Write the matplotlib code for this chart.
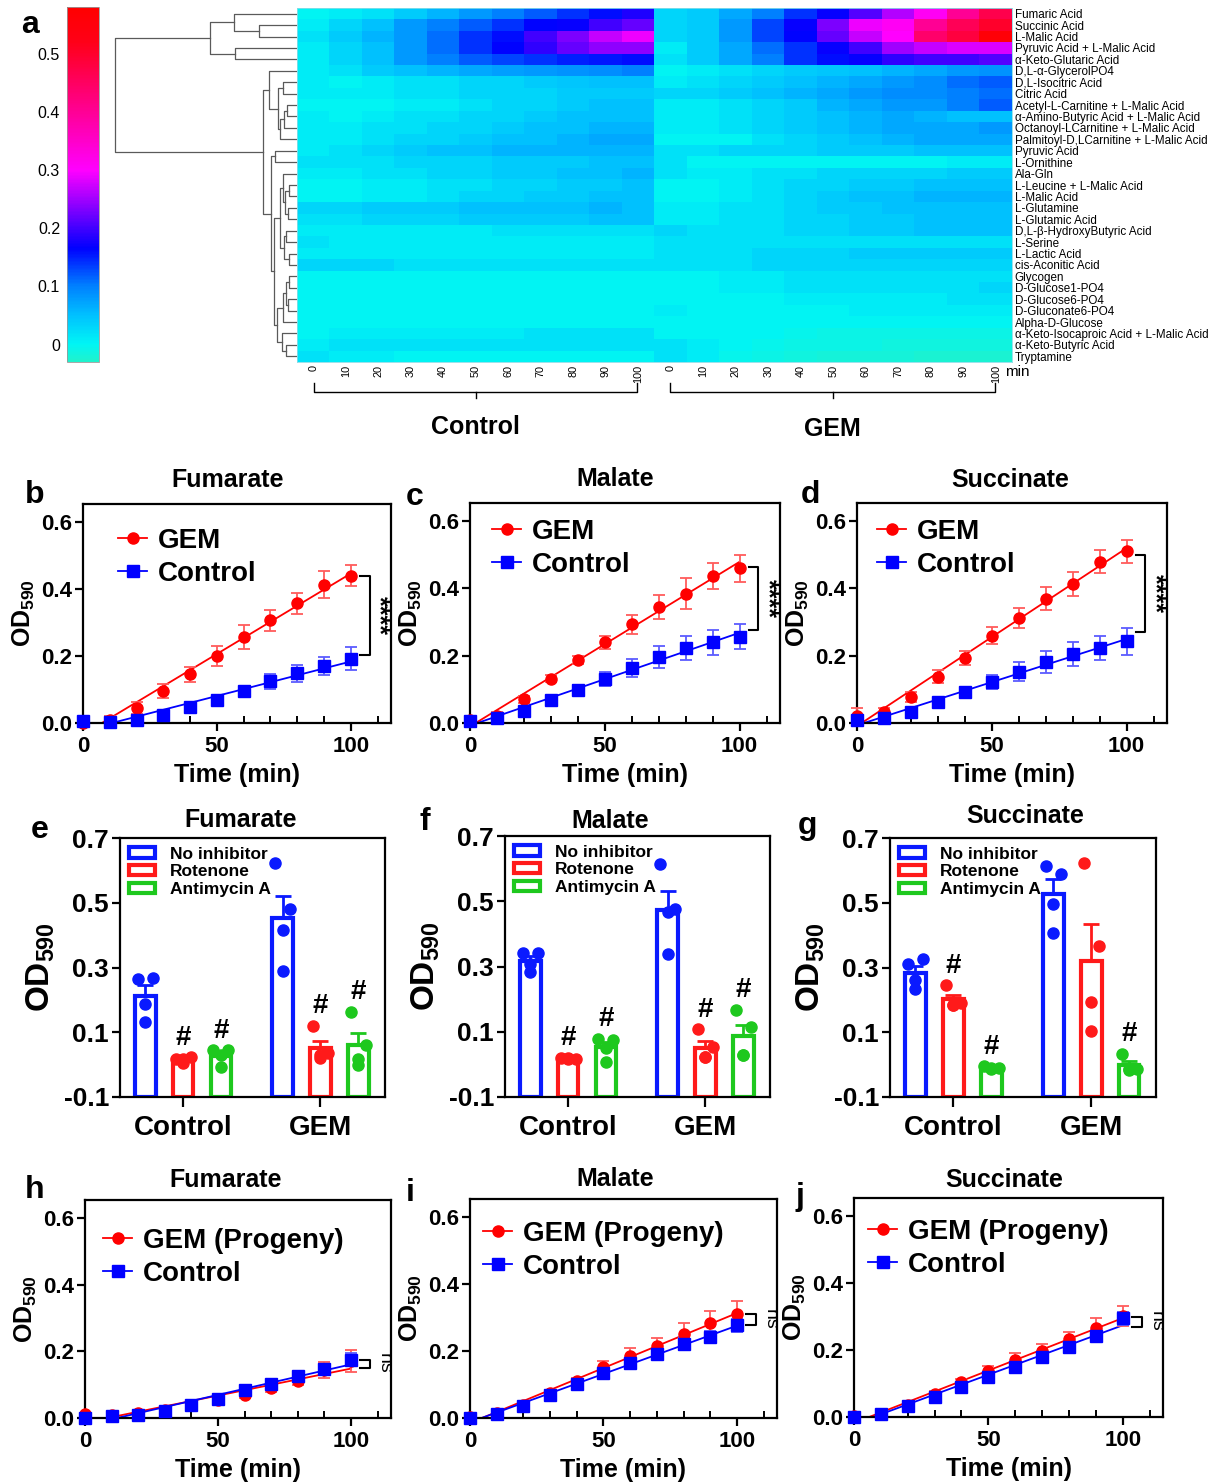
import numpy as np
import matplotlib
matplotlib.use("Agg")
import matplotlib.pyplot as plt
from matplotlib.colors import LinearSegmentedColormap
from matplotlib.lines import Line2D
from matplotlib.patches import Patch

plt.rcParams['font.family'] = ['Liberation Sans', 'DejaVu Sans']
plt.rcParams['mathtext.fontset'] = 'custom'
plt.rcParams['mathtext.rm'] = 'Liberation Sans'
plt.rcParams['mathtext.bf'] = 'Liberation Sans:bold'
plt.rcParams['axes.unicode_minus'] = False

# ---------------- data: heatmap (panel a) ----------------
substrates = ["Fumaric Acid", "Succinic Acid", "L-Malic Acid", "Pyruvic Acid + L-Malic Acid",
              "α-Keto-Glutaric Acid", "D,L-α-GlycerolPO4", "D,L-Isocitric Acid", "Citric Acid",
              "Acetyl-L-Carnitine + L-Malic Acid", "α-Amino-Butyric Acid + L-Malic Acid",
              "Octanoyl-LCarnitine + L-Malic Acid", "Palmitoyl-D,LCarnitine + L-Malic Acid",
              "Pyruvic Acid", "L-Ornithine", "Ala-Gln", "L-Leucine + L-Malic Acid", "L-Malic Acid",
              "L-Glutamine", "L-Glutamic Acid", "D,L-β-HydroxyButyric Acid", "L-Serine",
              "L-Lactic Acid", "cis-Aconitic Acid", "Glycogen", "D-Glucose1-PO4", "D-Glucose6-PO4",
              "D-Gluconate6-PO4", "Alpha-D-Glucose", "α-Keto-Isocaproic Acid + L-Malic Acid",
              "α-Keto-Butyric Acid", "Tryptamine"]
hm_minutes = ["0", "10", "20", "30", "40", "50", "60", "70", "80", "90", "100"]

hm_control = [
    [0.00, 0.01, 0.02, 0.04, 0.06, 0.08, 0.10, 0.12, 0.14, 0.16, 0.18],
    [0.01, 0.03, 0.05, 0.08, 0.10, 0.12, 0.14, 0.165, 0.17, 0.20, 0.22],
    [0.02, 0.04, 0.06, 0.08, 0.11, 0.14, 0.16, 0.20, 0.23, 0.27, 0.29],
    [0.01, 0.03, 0.05, 0.08, 0.11, 0.14, 0.165, 0.19, 0.22, 0.24, 0.24],
    [0.01, 0.03, 0.05, 0.08, 0.10, 0.12, 0.13, 0.14, 0.15, 0.155, 0.16],
    [0.01, 0.02, 0.04, 0.05, 0.06, 0.07, 0.075, 0.08, 0.085, 0.09, 0.10],
    [0.01, 0.00, 0.01, 0.02, 0.02, 0.03, 0.03, 0.04, 0.045, 0.05, 0.05],
    [0.01, 0.01, 0.01, 0.02, 0.02, 0.03, 0.03, 0.03, 0.04, 0.04, 0.04],
    [0.00, 0.00, 0.00, 0.01, 0.01, 0.02, 0.03, 0.03, 0.04, 0.05, 0.05],
    [0.01, 0.00, 0.01, 0.02, 0.02, 0.03, 0.03, 0.04, 0.05, 0.05, 0.05],
    [0.01, 0.01, 0.02, 0.02, 0.03, 0.03, 0.04, 0.05, 0.05, 0.06, 0.06],
    [0.01, 0.01, 0.02, 0.03, 0.03, 0.04, 0.05, 0.05, 0.06, 0.07, 0.07],
    [0.01, 0.02, 0.03, 0.04, 0.05, 0.05, 0.06, 0.06, 0.06, 0.06, 0.06],
    [0.02, 0.02, 0.02, 0.03, 0.03, 0.03, 0.04, 0.04, 0.04, 0.05, 0.05],
    [0.01, 0.01, 0.02, 0.02, 0.03, 0.03, 0.04, 0.04, 0.05, 0.05, 0.06],
    [0.00, 0.00, 0.01, 0.01, 0.02, 0.02, 0.03, 0.03, 0.04, 0.04, 0.05],
    [0.00, 0.00, 0.01, 0.01, 0.02, 0.03, 0.03, 0.04, 0.04, 0.05, 0.05],
    [0.03, 0.03, 0.04, 0.04, 0.04, 0.05, 0.05, 0.05, 0.05, 0.06, 0.05],
    [0.02, 0.02, 0.03, 0.03, 0.03, 0.04, 0.04, 0.04, 0.04, 0.05, 0.05],
    [0.01, 0.01, 0.01, 0.01, 0.01, 0.01, 0.02, 0.02, 0.02, 0.02, 0.02],
    [0.02, 0.01, 0.01, 0.01, 0.01, 0.01, 0.01, 0.01, 0.01, 0.01, 0.01],
    [0.01, 0.01, 0.01, 0.01, 0.01, 0.01, 0.01, 0.01, 0.01, 0.01, 0.01],
    [0.03, 0.03, 0.03, 0.02, 0.02, 0.02, 0.02, 0.02, 0.02, 0.02, 0.02],
    [0.00, 0.00, 0.00, 0.00, 0.00, 0.00, 0.00, 0.00, 0.00, 0.00, 0.00],
    [0.00, 0.00, 0.00, 0.00, 0.00, 0.00, 0.00, 0.00, 0.00, 0.00, 0.00],
    [0.00, 0.00, 0.00, 0.00, 0.00, 0.00, 0.00, 0.00, 0.00, 0.00, 0.00],
    [0.00, 0.00, 0.00, 0.00, 0.00, 0.00, 0.00, 0.00, 0.00, 0.00, 0.00],
    [0.00, 0.00, 0.00, 0.00, 0.00, 0.00, 0.00, 0.00, 0.00, 0.00, 0.00],
    [0.00, 0.01, 0.01, 0.01, 0.01, 0.01, 0.01, 0.02, 0.02, 0.02, 0.02],
    [0.01, 0.02, 0.02, 0.02, 0.02, 0.02, 0.02, 0.02, 0.02, 0.02, 0.02],
    [0.02, 0.01, 0.01, 0.00, 0.00, 0.00, 0.00, 0.00, 0.00, 0.00, 0.00],
]
hm_gem = [
    [0.03, 0.04, 0.07, 0.10, 0.14, 0.17, 0.21, 0.26, 0.31, 0.40, 0.47],
    [0.03, 0.04, 0.08, 0.13, 0.17, 0.23, 0.29, 0.31, 0.40, 0.46, 0.50],
    [0.03, 0.04, 0.08, 0.13, 0.165, 0.22, 0.27, 0.30, 0.44, 0.48, 0.56],
    [0.01, 0.04, 0.07, 0.11, 0.14, 0.17, 0.20, 0.25, 0.27, 0.28, 0.28],
    [0.02, 0.04, 0.07, 0.10, 0.14, 0.16, 0.17, 0.19, 0.20, 0.20, 0.21],
    [0.00, 0.01, 0.02, 0.03, 0.04, 0.045, 0.05, 0.06, 0.07, 0.08, 0.085],
    [0.01, 0.02, 0.03, 0.04, 0.05, 0.06, 0.07, 0.08, 0.09, 0.11, 0.12],
    [0.03, 0.03, 0.04, 0.05, 0.06, 0.07, 0.08, 0.09, 0.09, 0.10, 0.11],
    [0.01, 0.01, 0.02, 0.03, 0.04, 0.06, 0.07, 0.08, 0.08, 0.10, 0.12],
    [0.01, 0.01, 0.02, 0.03, 0.04, 0.05, 0.06, 0.07, 0.06, 0.05, 0.05],
    [0.01, 0.01, 0.02, 0.03, 0.04, 0.05, 0.06, 0.07, 0.07, 0.07, 0.08],
    [0.00, 0.00, 0.00, 0.02, 0.03, 0.04, 0.05, 0.06, 0.07, 0.07, 0.07],
    [0.02, 0.02, 0.03, 0.03, 0.03, 0.04, 0.04, 0.04, 0.05, 0.05, 0.05],
    [0.02, 0.00, 0.00, 0.00, 0.00, 0.00, 0.00, 0.00, 0.00, 0.01, 0.01],
    [0.02, 0.01, 0.01, 0.02, 0.02, 0.03, 0.03, 0.03, 0.03, 0.04, 0.04],
    [0.00, 0.00, 0.01, 0.02, 0.03, 0.03, 0.04, 0.04, 0.05, 0.05, 0.05],
    [0.00, 0.00, 0.01, 0.02, 0.03, 0.04, 0.05, 0.05, 0.06, 0.06, 0.06],
    [0.01, 0.01, 0.02, 0.02, 0.03, 0.04, 0.04, 0.05, 0.05, 0.05, 0.05],
    [0.01, 0.01, 0.02, 0.02, 0.03, 0.03, 0.04, 0.04, 0.05, 0.05, 0.05],
    [0.03, 0.02, 0.02, 0.02, 0.03, 0.03, 0.04, 0.04, 0.05, 0.05, 0.05],
    [0.02, 0.02, 0.02, 0.02, 0.02, 0.02, 0.02, 0.02, 0.02, 0.02, 0.02],
    [0.02, 0.02, 0.02, 0.03, 0.03, 0.03, 0.04, 0.04, 0.04, 0.04, 0.04],
    [0.02, 0.02, 0.02, 0.03, 0.03, 0.03, 0.03, 0.03, 0.03, 0.03, 0.03],
    [0.00, 0.00, 0.01, 0.01, 0.02, 0.02, 0.02, 0.02, 0.02, 0.02, 0.02],
    [0.00, 0.00, 0.01, 0.01, 0.02, 0.02, 0.02, 0.02, 0.02, 0.02, 0.03],
    [0.00, 0.00, 0.00, 0.00, 0.01, 0.01, 0.01, 0.01, 0.01, 0.02, 0.02],
    [0.01, 0.00, 0.00, 0.00, 0.00, 0.00, 0.01, 0.01, 0.01, 0.01, 0.01],
    [0.00, 0.00, 0.00, 0.00, 0.00, 0.00, 0.00, 0.00, 0.00, 0.00, 0.00],
    [0.00, 0.00, 0.00, 0.00, -0.005, -0.01, -0.01, -0.01, -0.01, -0.01, -0.01],
    [0.02, 0.01, 0.00, -0.005, -0.01, -0.01, -0.01, -0.015, -0.015, -0.015, -0.015],
    [0.02, 0.01, -0.005, -0.01, -0.015, -0.02, -0.02, -0.02, -0.025, -0.025, -0.025],
]

# row clustering: (merge distance, left, right); leaves are row indices
tree_top = (87, (63, 0, (38, 1, 2)), (62, 3, 4))
tree_a = (28, 5, (19, (14, 6, 7), (17, (13, (10, 8, 9), 10), 11)))
tree_c = (14, 14, (12, (8, 15, 16), (9, 17, 18)))
tree_d = (13, (11, 19, 20), (8, 21, 22))
tree_e = (14, (11, (8, 23, 24), (9, 25, 26)), 27)
tree_f = (15, 28, (11, 29, 30))
tree_b = (26, (22, 12, 13), (23, (17, tree_c, tree_d), (20, tree_e, tree_f)))
tree = (181, tree_top, (34, tree_a, tree_b))

# ---------------- data: kinetics (panels b-d, h-j) ----------------
t_min = [0, 10, 20, 30, 40, 50, 60, 70, 80, 90, 100]

b_gem = [0.0, 0.01, 0.045, 0.095, 0.145, 0.20, 0.257, 0.307, 0.357, 0.413, 0.44]
b_gem_err = [0.005, 0.012, 0.018, 0.02, 0.022, 0.03, 0.036, 0.031, 0.03, 0.04, 0.032]
b_ctl = [0.005, 0.003, 0.01, 0.025, 0.047, 0.068, 0.095, 0.125, 0.148, 0.17, 0.192]
b_ctl_err = [0.004, 0.004, 0.005, 0.006, 0.008, 0.01, 0.01, 0.022, 0.025, 0.027, 0.035]

c_gem = [0.01, 0.022, 0.07, 0.132, 0.186, 0.24, 0.293, 0.345, 0.384, 0.437, 0.46]
c_gem_err = [0.012, 0.01, 0.01, 0.01, 0.012, 0.02, 0.027, 0.035, 0.046, 0.038, 0.04]
c_ctl = [0.005, 0.015, 0.037, 0.069, 0.099, 0.13, 0.163, 0.196, 0.223, 0.24, 0.257]
c_ctl_err = [0.005, 0.005, 0.012, 0.01, 0.015, 0.021, 0.027, 0.033, 0.037, 0.037, 0.036]

d_gem = [0.022, 0.033, 0.078, 0.138, 0.193, 0.26, 0.312, 0.37, 0.414, 0.48, 0.51]
d_gem_err = [0.022, 0.012, 0.015, 0.02, 0.02, 0.024, 0.03, 0.035, 0.035, 0.035, 0.035]
d_ctl = [0.008, 0.015, 0.033, 0.062, 0.092, 0.122, 0.153, 0.181, 0.205, 0.223, 0.243]
d_ctl_err = [0.005, 0.006, 0.01, 0.008, 0.015, 0.022, 0.028, 0.032, 0.035, 0.037, 0.04]

h_gem = [0.012, 0.01, 0.015, 0.025, 0.04, 0.053, 0.07, 0.09, 0.11, 0.144, 0.172]
h_gem_err = [0.004, 0.004, 0.005, 0.006, 0.006, 0.008, 0.01, 0.012, 0.012, 0.024, 0.033]
h_ctl = [0.0, 0.005, 0.008, 0.02, 0.038, 0.058, 0.083, 0.102, 0.127, 0.148, 0.175]
h_ctl_err = [0.003, 0.003, 0.004, 0.005, 0.006, 0.007, 0.008, 0.01, 0.012, 0.015, 0.02]

i_gem = [0.003, 0.015, 0.04, 0.075, 0.11, 0.152, 0.185, 0.215, 0.25, 0.285, 0.312]
i_gem_err = [0.004, 0.005, 0.008, 0.01, 0.01, 0.018, 0.023, 0.025, 0.033, 0.035, 0.036]
i_ctl = [0.0, 0.012, 0.035, 0.07, 0.103, 0.133, 0.163, 0.19, 0.222, 0.243, 0.277]
i_ctl_err = [0.003, 0.005, 0.008, 0.01, 0.01, 0.012, 0.012, 0.014, 0.02, 0.016, 0.02]

j_gem = [0.002, 0.008, 0.037, 0.07, 0.104, 0.137, 0.17, 0.198, 0.232, 0.267, 0.302]
j_gem_err = [0.003, 0.004, 0.006, 0.008, 0.008, 0.015, 0.02, 0.02, 0.022, 0.028, 0.03]
j_ctl = [0.0, 0.008, 0.033, 0.06, 0.09, 0.12, 0.15, 0.18, 0.21, 0.243, 0.295]
j_ctl_err = [0.003, 0.004, 0.006, 0.008, 0.008, 0.01, 0.01, 0.012, 0.012, 0.012, 0.02]

# significance bracket ends (OD590) at t = 100 min
b_sig = (0.438, 0.202)
c_sig = (0.465, 0.275)
d_sig = (0.498, 0.272)
h_sig = (0.175, 0.15)
i_sig = (0.312, 0.277)
j_sig = (0.30, 0.27)

# ---------------- data: inhibitors (panels e-g), 4 wells each ----------------
inhibitors = ["No inhibitor", "Rotenone", "Antimycin A"]
e_control = [[0.263, 0.267, 0.186, 0.131], [0.018, 0.023, 0.018, 0.005], [0.044, 0.044, 0.03, -0.008]]
e_gem = [[0.623, 0.48, 0.415, 0.289], [0.12, 0.035, 0.03, 0.02], [0.164, 0.06, 0.018, -0.002]]
f_control = [[0.34, 0.34, 0.309, 0.283], [0.02, 0.018, 0.017, 0.019], [0.078, 0.076, 0.05, 0.008]]
f_gem = [[0.614, 0.475, 0.468, 0.337], [0.107, 0.053, 0.023, 0.023], [0.168, 0.115, 0.03, 0.03]]
g_control = [[0.312, 0.325, 0.235, 0.26], [0.245, 0.19, 0.185, 0.185], [-0.005, -0.01, -0.01, -0.012]]
g_gem = [[0.613, 0.588, 0.495, 0.406], [0.623, 0.366, 0.193, 0.103], [0.034, -0.013, -0.013, -0.018]]
e_hash = [False, True, True, False, True, True]
f_hash = [False, True, True, False, True, True]
g_hash = [False, True, True, False, False, True]

# ---------------- figure ----------------
W, H = 1215, 1483
fig = plt.figure(figsize=(W / 100, H / 100), dpi=100)


def px_axes(l, t, r, b):
    return fig.add_axes([l / W, 1 - b / H, (r - l) / W, (b - t) / H])


def fig_text(x, y, s, **kw):
    fig.text(x / W, 1 - y / H, s, **kw)


# panel a: heatmap
cmap = LinearSegmentedColormap.from_list("cyanred", [
    (0.0, "#20f2cc"), (0.049, "#00f5f5"), (0.131, "#00c0ff"), (0.213, "#0080ff"),
    (0.32, "#0000ff"), (0.54, "#ff00ff"), (0.738, "#ff0080"), (0.902, "#ff0018"), (1.0, "#ff0000")])
vmin, vmax = -0.03, 0.58
hm = np.hstack([np.array(hm_control), np.array(hm_gem)])
nrow = hm.shape[0]

ax_hm = px_axes(297, 8, 1012, 362)
ax_hm.imshow(hm, aspect='auto', cmap=cmap, vmin=vmin, vmax=vmax, interpolation='nearest')
ax_hm.yaxis.tick_right()
ax_hm.set_yticks(range(nrow))
ax_hm.set_yticklabels(substrates, fontsize=8.4)
ax_hm.set_xticks(range(hm.shape[1]))
ax_hm.set_xticklabels(hm_minutes * 2, rotation=90, fontsize=7.8)
ax_hm.tick_params(length=0, pad=2)
for s in ax_hm.spines.values():
    s.set_color("#88dde8")
    s.set_linewidth(0.6)

# dendrogram
ax_dg = px_axes(100, 8, 297, 362)
ax_dg.set_xlim(196, 0)
ax_dg.set_ylim(nrow - 0.5, -0.5)
ax_dg.axis('off')


def draw_tree(node):
    if isinstance(node, int):
        return node, 0
    d, left, right = node
    yl, dl = draw_tree(left)
    yr, dr = draw_tree(right)
    ax_dg.plot([dl, d, d, dr], [yl, yl, yr, yr], color="#5a5a5a", lw=0.9)
    return (yl + yr) / 2, d


draw_tree(tree)

# colorbar
ax_cb = px_axes(67, 7, 99, 362)
cb = fig.colorbar(plt.cm.ScalarMappable(norm=plt.Normalize(vmin, vmax), cmap=cmap), cax=ax_cb)
cb.set_ticks([0, 0.1, 0.2, 0.3, 0.4, 0.5])
cb.ax.yaxis.set_ticks_position('left')
cb.ax.tick_params(length=0, labelsize=11.5, pad=5)
cb.ax.set_yticklabels(["0", "0.1", "0.2", "0.3", "0.4", "0.5"])
cb.outline.set_linewidth(0.6)
cb.outline.set_edgecolor("#999999")

# brackets below heatmap
ax_ov = fig.add_axes([0, 0, 1, 1], facecolor='none')
ax_ov.set_xlim(0, W)
ax_ov.set_ylim(H, 0)
ax_ov.axis('off')
for x0, x1, name, ty in [(314, 637, "Control", 427), (670, 995, "GEM", 429)]:
    ax_ov.plot([x0, x0, x1, x1], [383, 392, 392, 383], color='k', lw=1)
    xm = (x0 + x1) / 2
    ax_ov.plot([xm, xm], [392, 398], color='k', lw=1)
    ax_ov.text(xm, ty, name, ha='center', va='center', fontsize=18, fontweight='bold')
ax_ov.text(1005, 372, "min", ha='left', va='center', fontsize=11)

letters = [("a", 30, 25), ("b", 35, 495), ("c", 415, 497), ("d", 810, 495),
           ("e", 40, 830), ("f", 425, 822), ("g", 808, 826),
           ("h", 35, 1190), ("i", 410, 1193), ("j", 800, 1197)]
for s, x, y in letters:
    fig_text(x, y, s, ha='center', va='center', fontsize=23, fontweight='bold')


def style_box(ax):
    for s in ax.spines.values():
        s.set_linewidth(1.6)


def kinetic(ax, gem, gem_err, ctl, ctl_err, title, title_xy, gem_name, leg_px, sig, sig_ends):
    t = np.array(t_min)
    series = [(gem, gem_err, 'red', '#ff5c5c', 'o', gem_name),
              (ctl, ctl_err, 'blue', '#5c5cff', 's', "Control")]
    handles = []
    for y, err, c, ec, m, lab in series:
        ax.errorbar(t, y, yerr=err, fmt=m, color=c, ecolor=ec, ms=8, capsize=4,
                    elinewidth=1.3, capthick=1.3, clip_on=False, zorder=3)
        k, b0 = np.polyfit(t, y, 1)
        xs = np.array([0, 100])
        ax.plot(xs, k * xs + b0, color=c, lw=1.3, zorder=2)
        handles.append(Line2D([], [], color=c, marker=m, ms=8, lw=1.3, label=lab))
    ax.set_xlim(0, 115)
    ax.set_ylim(0, 0.654)
    ax.set_xticks([0, 50, 100])
    ax.set_xticks(np.arange(0, 115, 10), minor=True)
    ax.set_yticks([0, 0.2, 0.4, 0.6])
    ax.set_yticklabels(["0.0", "0.2", "0.4", "0.6"])
    ax.tick_params(which='major', direction='out', length=6, width=1.6, labelsize=16)
    ax.tick_params(axis='y', pad=2)
    ax.tick_params(axis='x', which='minor', direction='in', length=5, width=1.4)
    for lab in ax.get_xticklabels() + ax.get_yticklabels():
        lab.set_fontweight('bold')
    ax.set_xlabel("Time (min)", fontsize=18, fontweight='bold', labelpad=4)
    ax.set_ylabel(r"$\mathbf{OD_{590}}$", fontsize=18, labelpad=3)
    fig_text(title_xy[0], title_xy[1], title, ha='center', va='center', fontsize=18, fontweight='bold')
    bb = ax.get_position()
    lx = bb.x0 + leg_px[0] / W
    ly = bb.y1 - leg_px[1] / H
    ax.legend(handles=handles, loc='upper left', bbox_to_anchor=(lx, ly),
              bbox_transform=fig.transFigure, frameon=False,
              prop={'size': 20, 'weight': 'bold'}, handlelength=1.05, handletextpad=0.4,
              labelspacing=0.25, borderaxespad=0, borderpad=0)
    y1, y2 = sig_ends
    ax.plot([103.5, 107, 107, 103.5], [y1, y1, y2, y2], color='k', lw=1.5, clip_on=False)
    if sig == "ns":
        ax.text(112.5, (y1 + y2) / 2, sig, rotation=-90, ha='center', va='center', fontsize=14)
    else:
        ax.text(110.5, (y1 + y2) / 2, sig, rotation=-90, ha='center', va='center', fontsize=18,
                fontweight='bold')
    style_box(ax)


kinetic(px_axes(83, 504, 391, 723), b_gem, b_gem_err, b_ctl, b_ctl_err,
        "Fumarate", (228, 480), "GEM", (35, 24), "****", b_sig)
kinetic(px_axes(470, 503, 780, 723), c_gem, c_gem_err, c_ctl, c_ctl_err,
        "Malate", (615, 479), "GEM", (22, 16), "****", c_sig)
kinetic(px_axes(857, 503, 1167, 723), d_gem, d_gem_err, d_ctl, d_ctl_err,
        "Succinate", (1010, 480), "GEM", (20, 16), "****", d_sig)
kinetic(px_axes(85, 1200, 391, 1418), h_gem, h_gem_err, h_ctl, h_ctl_err,
        "Fumarate", (226, 1180), "GEM (Progeny)", (18, 28), "ns", h_sig)
kinetic(px_axes(470, 1199, 777, 1418), i_gem, i_gem_err, i_ctl, i_ctl_err,
        "Malate", (615, 1179), "GEM (Progeny)", (13, 22), "ns", i_sig)
kinetic(px_axes(854, 1198, 1163, 1417), j_gem, j_gem_err, j_ctl, j_ctl_err,
        "Succinate", (1004, 1180), "GEM (Progeny)", (14, 21), "ns", j_sig)

bar_colors = ['#0a1aff', '#ff1a1a', '#1ec81e']


def inhib(ax, ctl_groups, gem_groups, title, title_xy, hashes):
    spread = [-0.055, 0.055, 0.0, 0.0]
    k = 0
    for gi, groups in enumerate([ctl_groups, gem_groups]):
        for bi, pts in enumerate(groups):
            x = gi + (bi - 1) * 0.275
            c = bar_colors[bi]
            pts = np.array(pts)
            m = pts.mean()
            sem = pts.std(ddof=1) / np.sqrt(len(pts))
            ax.bar(x, m + 0.1, bottom=-0.1, width=0.15, facecolor='white', edgecolor=c, lw=3, zorder=2)
            ax.errorbar(x, m, yerr=[[0], [sem]], fmt='none', ecolor=c, elinewidth=2,
                        capsize=6, capthick=2, zorder=3)
            ax.plot(x + np.array(spread), pts, 'o', color=c, ms=8, zorder=4, clip_on=False)
            if hashes[k]:
                top = max(pts.max(), m + sem)
                ax.text(x, top + 0.02, "#", ha='center', va='bottom', fontsize=20, fontweight='bold')
            k += 1
    ax.set_xlim(-0.46, 1.47)
    ax.set_ylim(-0.1, 0.7)
    ax.set_yticks([-0.1, 0.1, 0.3, 0.5, 0.7])
    ax.set_xticks([0, 1])
    ax.set_xticklabels(["Control", "GEM"])
    ax.tick_params(axis='y', direction='out', length=6, width=1.6, labelsize=19, pad=2)
    ax.tick_params(axis='x', direction='out', length=7, width=1.6, labelsize=20, pad=6)
    for lab in ax.get_xticklabels() + ax.get_yticklabels():
        lab.set_fontweight('bold')
    ax.set_ylabel(r"$\mathbf{OD_{590}}$", fontsize=24, labelpad=5)
    fig_text(title_xy[0], title_xy[1], title, ha='center', va='center', fontsize=18, fontweight='bold')
    handles = [Patch(facecolor='white', edgecolor=c, lw=3, label=lab)
               for c, lab in zip(bar_colors, inhibitors)]
    ax.legend(handles=handles, loc='upper left', bbox_to_anchor=(0.0, 1.0), frameon=False,
              prop={'size': 12.5, 'weight': 'bold'}, handlelength=1.5, handleheight=0.55,
              handletextpad=0.9, labelspacing=0.15, borderaxespad=0.1)
    style_box(ax)


inhib(px_axes(120, 838, 385, 1097), e_control, e_gem, "Fumarate", (241, 820), e_hash)
inhib(px_axes(505, 836, 770, 1097), f_control, f_gem, "Malate", (610, 821), f_hash)
inhib(px_axes(890, 838, 1156, 1097), g_control, g_gem, "Succinate", (1025, 816), g_hash)

fig.savefig("out.png", dpi=100)
